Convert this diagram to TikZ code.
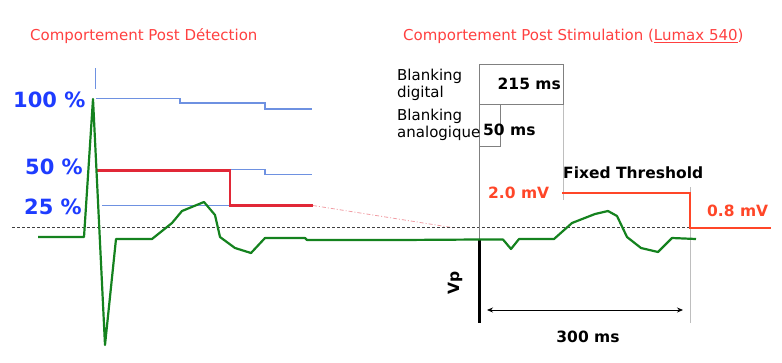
\documentclass[tikz,border=0pt]{standalone}
\usepackage{fontspec}
\setmainfont{DejaVu Sans}
\usetikzlibrary{arrows.meta}
\definecolor{titlered}{RGB}{255,64,64}
\definecolor{pctblue}{RGB}{30,60,255}
\definecolor{lineblue}{RGB}{110,145,225}
\definecolor{redline}{RGB}{225,40,55}
\definecolor{orangeline}{RGB}{255,70,40}
\definecolor{ecg}{RGB}{20,130,30}
\definecolor{guide}{RGB}{190,190,190}
\begin{document}
\begin{tikzpicture}[x=1pt,y=-1pt,
  titletext/.style={font=\fontsize{15}{18}\selectfont, text=titlered, inner sep=0, anchor=west},
  pct/.style={font=\fontsize{21}{24}\selectfont\bfseries, text=pctblue, inner sep=0, anchor=west},
  boldlbl/.style={font=\fontsize{15.5}{18}\selectfont\bfseries, inner sep=0},
  smalltext/.style={font=\fontsize{15}{16.5}\selectfont, inner sep=0, anchor=north west, align=left},
  blueline/.style={lineblue, line width=1.3pt},
  ecgline/.style={ecg, line width=2.2pt, line join=round},
  guideline/.style={guide, line width=0.8pt},
  boxline/.style={gray, line width=0.9pt}]
\useasboundingbox (0,0) rectangle (782,362);

% titles
\node[titletext] (t1) at (30,36) {Comportement Post Détection};
\node[titletext] (t2) at (403,36) {Comportement Post Stimulation (\underline{Lumax 540})};

% percentage labels
\node[pct] (p100) at (13,100) {100 \%};
\node[pct] (p50) at (25,167) {50 \%};
\node[pct] (p25) at (24,207) {25 \%};

% tick
\draw[lineblue, line width=1pt] (95,68) -- (95,89);

% blue step lines
\draw[blueline] (96,98.5) -- (180,98.5) -- (180,103) -- (265,103) -- (265,109) -- (312,109);
\draw[blueline] (230,169.5) -- (265,169.5) -- (265,174.5) -- (312,174.5);
\draw[blueline] (102,205.5) -- (230,205.5);

% red threshold
\draw[redline, line width=2.2pt] (96,170.5) -- (230,170.5) -- (230,205.5) -- (313,205.5);
\draw[redline!45, line width=0.8pt, dash pattern=on 4pt off 2pt on 1pt off 2pt] (313,205.5) -- (455,228);

% baseline dashed
\draw[black!75, line width=1pt, dash pattern=on 3pt off 2pt] (12,227.7) -- (697,227.7);

% guide lines
\draw[guideline] (563,104) -- (563,200);
\draw[guideline] (690,187) -- (690,323);
\draw[boxline] (479.5,146) -- (479.5,239);

% blanking boxes
\draw[boxline] (479.5,64) rectangle (563,104);
\draw[boxline] (479.5,104) rectangle (500,146);
\node[boldlbl, anchor=east] (b215) at (561,84) {215 ms};
\node[boldlbl, anchor=west] (b50) at (483,130) {50 ms};
\node[smalltext] (bd) at (397,69) {Blanking\\digital};
\node[smalltext] (ba) at (397,109) {Blanking\\analogique};

% Vp
\draw[black, line width=2.5pt] (479.5,239) -- (479.5,323);
\node[boldlbl, rotate=90] (vp) at (455,283) {Vp};

% fixed threshold
\node[boldlbl, anchor=west] (ft) at (563,173) {Fixed Threshold};
\node[boldlbl, anchor=west, text=orangeline] (v20) at (488,193) {2.0 mV};
\node[boldlbl, anchor=west, text=orangeline] (v08) at (707,211) {0.8 mV};
\draw[orangeline, line width=2pt] (562,193) -- (690,193) -- (690,228) -- (771,228);

% 300 ms arrow
\coordinate (a1) at (487,310);
\coordinate (a2) at (683,310);
\draw[black, line width=0.8pt, {Stealth[length=6pt,width=5pt]}-{Stealth[length=6pt,width=5pt]}] (a1) -- (a2);
\node[boldlbl] (t300) at (588,337) {300 ms};

% ECG
\draw[ecgline] (38,237) -- (84,237) -- (93,99) -- (105,345) -- (116,239) -- (152,239)
  -- (172,223) -- (182,211) -- (204,202) -- (215,215) -- (220,237) -- (235,248)
  -- (251,253) -- (265,238) -- (305,238) -- (307,240) -- (400,240) -- (479,239.5)
  -- (503,239.5) -- (511,249) -- (519,239) -- (554,239) -- (572,223) -- (595,214) -- (608,211)
  -- (617,216) -- (627,237) -- (641,248) -- (658,252) -- (672,238) -- (696,239);
\end{tikzpicture}
\end{document}
